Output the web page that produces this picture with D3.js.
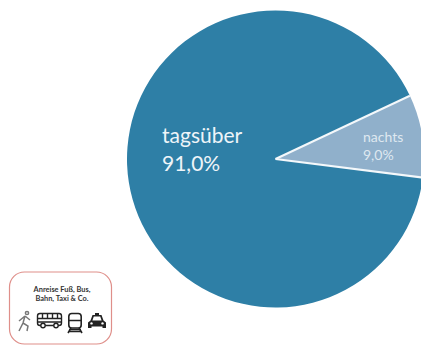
<!DOCTYPE html>
<html>
<head>
<meta charset="utf-8">
<script src="https://cdn.jsdelivr.net/npm/d3@7/dist/d3.min.js"></script>
<style>
html,body{margin:0;padding:0;background:#fff;overflow:hidden}
svg{display:block}
text{font-family:Lato,"Open Sans",sans-serif}
</style>
</head>
<body>
<svg id="chart" width="421" height="345"></svg>
<script>
const categories = ["tagsüber", "nachts"];
const shares = [91.0, 9.0];
const valueLabels = ["91,0%", "9,0%"];
const sliceColors = ["#2e7fa6", "#90b0cb"];
const badgeLines = ["Anreise Fuß, Bus,", "Bahn, Taxi & Co."];

const svg = d3.select("#chart");
const cx = 275.5, cy = 159, radius = 148.5;

// The day slice starts just below 3 o'clock, which leaves the night slice on the right edge.
const startDeg = 97.2;
const pie = d3.pie().sort(null).value(d => d)
  .startAngle(startDeg * Math.PI / 180)
  .endAngle((startDeg + 360) * Math.PI / 180);
const arc = d3.arc().innerRadius(0).outerRadius(radius);
const g = svg.append("g").attr("transform", `translate(${cx},${cy})`);
const slices = pie(shares);

g.selectAll("path.slice").data(slices).join("path")
  .attr("class", "slice")
  .attr("d", arc)
  .attr("fill", (d, i) => sliceColors[i]);

// White separators along the two straight edges only
g.selectAll("line.edge").data([slices[1].startAngle, slices[1].endAngle]).join("line")
  .attr("class", "edge")
  .attr("x2", a => radius * Math.sin(a))
  .attr("y2", a => -radius * Math.cos(a))
  .attr("stroke", "#f4f8fb")
  .attr("stroke-width", 2);

// Slice captions
const bigLabel = svg.append("g").attr("fill", "#eef5f9").attr("font-size", 21);
bigLabel.append("text").attr("x", 162).attr("y", 143).text(categories[0]);
bigLabel.append("text").attr("x", 162).attr("y", 171).text(valueLabels[0]);
const smallLabel = svg.append("g").attr("fill", "#dfe8f0").attr("font-size", 14);
smallLabel.append("text").attr("x", 363).attr("y", 142).text(categories[1]);
smallLabel.append("text").attr("x", 363).attr("y", 160).text(valueLabels[1]);

// Badge for the travel mode
svg.append("rect").attr("x", 9.5).attr("y", 272).attr("width", 102).attr("height", 72)
  .attr("rx", 15).attr("fill", "#fff").attr("stroke", "#df8f8a").attr("stroke-width", 1.2);
const badgeText = svg.append("g").attr("fill", "#333").attr("font-size", 7.4)
  .attr("font-weight", 700).attr("text-anchor", "middle");
badgeLines.forEach((t, i) => badgeText.append("text").attr("x", 62).attr("y", 292 + i * 8.5).text(t));

const icons = svg.append("g").attr("fill", "none").attr("stroke", "#222").attr("stroke-width", 1.4);
// Walker
const walker = icons.append("g").attr("transform", "translate(24,322)").attr("stroke", "#777").attr("stroke-width", 1.5);
walker.append("circle").attr("cx", 3).attr("cy", -9).attr("r", 1.6);
walker.append("path").attr("d", "M1,-6 L-1,1 L-5,9 M-1,1 L4,4 L3,9 M1,-6 L-5,-1 M1,-6 L6,-2");
// Bus
const bus = icons.append("g").attr("transform", "translate(49.5,320)");
bus.append("rect").attr("x", -12).attr("y", -6.5).attr("width", 24).attr("height", 12).attr("rx", 2.5);
bus.append("path").attr("d", "M-12,-1.5 H12 M-7,-6.5 V-1.5 M-2,-6.5 V-1.5 M3,-6.5 V-1.5 M8,-6.5 V-1.5 M-12,2 H12");
bus.append("circle").attr("cx", -6.5).attr("cy", 5.5).attr("r", 2.2).attr("fill", "#fff");
bus.append("circle").attr("cx", 6.5).attr("cy", 5.5).attr("r", 2.2).attr("fill", "#fff");
// Train
const train = icons.append("g").attr("transform", "translate(75,322)").attr("stroke-width", 1.6);
train.append("rect").attr("x", -6.2).attr("y", -8.5).attr("width", 12.4).attr("height", 14.5).attr("rx", 3);
train.append("path").attr("d", "M-6,-1.5 H6 M-4,6 L-7,11 M4,6 L7,11 M-6,9.5 H6 M-6,7.5 H6");
// Car
const car = icons.append("g").attr("transform", "translate(97,321)").attr("stroke", "none");
car.append("path").attr("d", "M-9,7 V1.5 L-6.5,-0.5 L-4.5,-6 H-2 V-8 H2 V-6 H4.5 L6.5,-0.5 L9,1.5 V7 H5.5 V5.5 H-5.5 V7 Z").attr("fill", "#222");
car.append("path").attr("d", "M-4.6,-0.5 L-3.2,-4.4 H3.2 L4.6,-0.5 Z").attr("fill", "#fff");
car.append("circle").attr("cx", -5.5).attr("cy", 2.4).attr("r", 1.2).attr("fill", "#fff");
car.append("circle").attr("cx", 5.5).attr("cy", 2.4).attr("r", 1.2).attr("fill", "#fff");
</script>
</body>
</html>
